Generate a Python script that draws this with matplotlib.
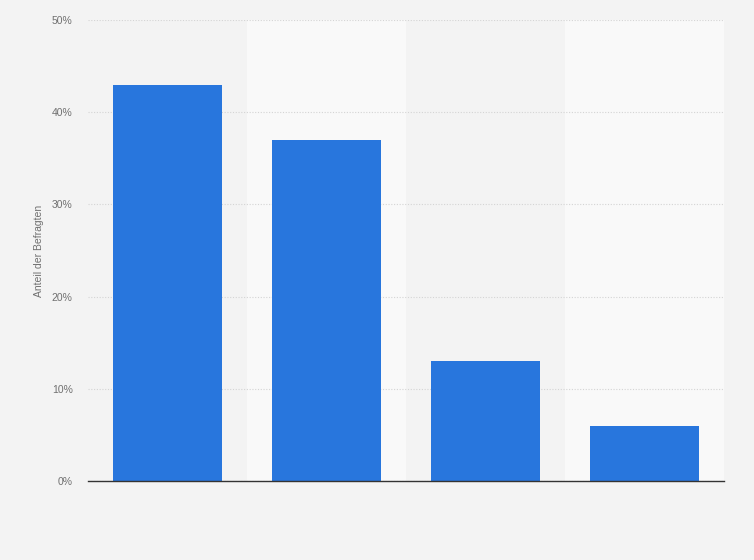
import matplotlib
matplotlib.use("Agg")
import matplotlib.pyplot as plt
import numpy as np

plt.rcParams["font.family"] = ["Liberation Sans", "DejaVu Sans"]

# Daten
kategorien = ["A", "B", "C", "D"]
anteile = [43, 37, 13, 6]
y_ticks = [0, 10, 20, 30, 40, 50]

fig = plt.figure(figsize=(7.54, 5.6), dpi=100)
fig.patch.set_facecolor("#f3f3f3")
ax = fig.add_axes([88/754, 1-481/560, (724-88)/754, (481-20)/560])
ax.set_facecolor("#f3f3f3")

x = np.arange(len(kategorien))
# abwechselnde Spaltenhintergruende
for i in x:
    if i % 2 == 1:
        ax.axvspan(i-0.5, i+0.5, color="#f9f9f9", zorder=0, lw=0)

ax.bar(x, anteile, width=0.686, color="#2876dd", zorder=3)

ax.set_xlim(-0.5, len(kategorien)-0.5)
ax.set_ylim(0, 50)
ax.set_yticks(y_ticks)
ax.set_yticklabels([f"{v}%" for v in y_ticks], fontsize=7.5, color="#707070")
ax.set_xticks([])
ax.tick_params(axis="y", length=0, pad=11)
ax.grid(axis="y", color="#d4d4d4", linestyle=(0, (1, 1.5)), linewidth=0.8, zorder=1)

for s in ["top", "right", "left"]:
    ax.spines[s].set_visible(False)
ax.spines["bottom"].set_color("#333333")
ax.spines["bottom"].set_linewidth(1.0)
ax.spines["bottom"].set_zorder(4)

ax.set_ylabel("Anteil der Befragten", fontsize=7.5, color="#707070", labelpad=6)

fig.savefig("out.png", dpi=100, facecolor=fig.get_facecolor())
